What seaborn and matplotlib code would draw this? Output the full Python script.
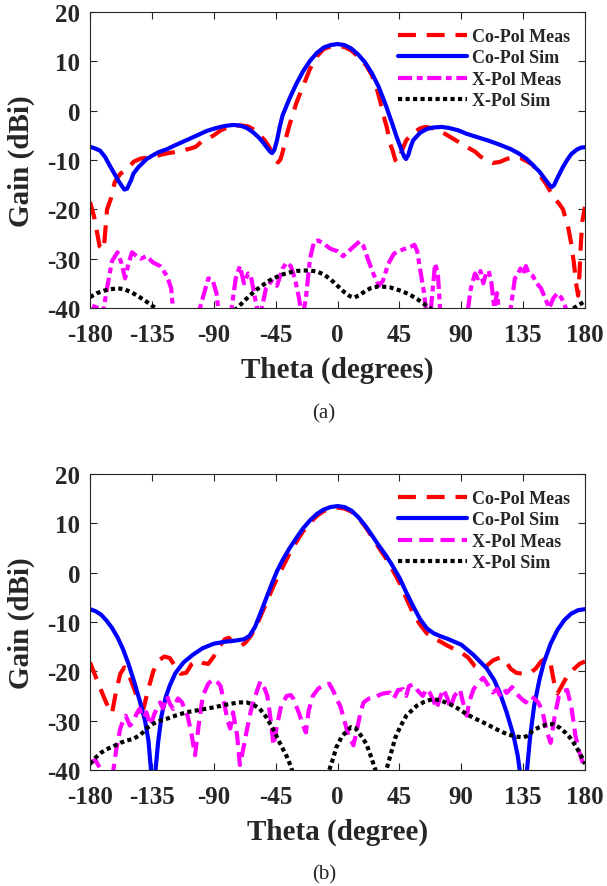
import matplotlib
matplotlib.use("Agg")
import matplotlib.pyplot as plt
import seaborn as sns
import pandas as pd

# ---------------- data (a) ----------------
theta_a_cosim = [-180, -176, -172.7, -169, -165.5, -162, -159.4, -157, -155, -153, -150, -148.5, -145, -141, -138.8, -134, -130, -124, -118, -110, -102, -95, -88, -82, -76, -71, -66, -61.3, -57, -54, -51, -49, -47.6, -46, -44, -42, -40, -35, -30, -25, -20, -15, -10, -5, 0, 5, 10, 15, 20, 25, 30, 35, 40, 43, 45, 47, 48.5, 49.8, 51.5, 53, 55, 60, 65, 70, 75.7, 81, 88, 94, 102, 110, 118, 126, 132, 137.6, 142, 147, 151, 154, 155.7, 157.5, 160, 164, 167, 170, 174, 177, 180]
gain_a_cosim = [-7.3, -7.7, -8.1, -9.4, -11.2, -12.9, -14.2, -15.2, -16.0, -15.8, -14.0, -12.8, -11.5, -10.4, -9.8, -9.0, -8.4, -7.8, -7.0, -6.0, -5.0, -4.1, -3.5, -3.1, -2.9, -3.0, -3.5, -4.4, -5.5, -6.5, -7.6, -8.3, -8.6, -8.0, -6.0, -3.3, -1.0, 2.4, 5.4, 8.0, 10.1, 11.7, 12.8, 13.3, 13.5, 13.3, 12.6, 11.4, 9.8, 7.6, 4.8, 1.2, -2.8, -5.3, -6.8, -8.3, -9.3, -9.8, -9.0, -7.5, -6.0, -4.5, -3.7, -3.4, -3.3, -3.5, -4.0, -4.7, -5.4, -6.1, -6.9, -7.8, -8.7, -9.8, -11.0, -12.4, -13.9, -15.0, -15.5, -15.1, -13.6, -11.4, -10.0, -8.8, -7.9, -7.5, -7.4]

theta_a_comeas = [-180, -177, -175, -173, -170, -167.6, -165, -162, -158, -153, -148, -143, -138, -133, -128, -123, -118, -114, -110, -106, -103, -99, -95, -90, -85, -80, -75, -70, -65, -61, -57, -53, -50, -47, -45, -43.3, -41.5, -40, -37, -35, -32, -30, -25, -20, -15, -10, -5, 0, 5, 10, 15, 21, 25, 28, 31, 34, 36, 38, 40, 42, 43.5, 45, 47, 50, 55, 60, 64, 70, 77, 83, 89, 95, 100, 104, 109, 113, 118, 123, 128, 133, 138, 142, 147, 152, 157, 161, 164, 166, 168, 170, 172, 173.5, 175, 176, 177, 178, 180]
gain_a_comeas = [-18.5, -21.5, -24.5, -27.5, -28.2, -20.0, -18.0, -14.5, -12.8, -11.8, -10.3, -9.7, -9.5, -9.3, -8.9, -8.6, -8.4, -8.2, -7.9, -7.6, -7.3, -6.3, -5.8, -5.0, -4.0, -3.4, -3.1, -3.0, -3.2, -3.8, -4.8, -6.0, -7.2, -8.8, -9.8, -10.5, -9.9, -8.5, -5.0, -3.0, -0.3, 1.5, 5.0, 8.5, 11.0, 12.5, 13.0, 13.1, 12.9, 12.2, 11.0, 9.1, 7.2, 5.0, 2.0, -1.5, -3.5, -6.5, -8.0, -10.0, -10.5, -9.5, -8.0, -6.0, -4.5, -3.6, -3.3, -3.6, -4.5, -5.5, -6.5, -7.5, -8.3, -9.3, -10.1, -10.6, -10.4, -9.8, -9.4, -9.6, -10.3, -11.0, -13.0, -15.0, -17.5, -18.8, -20.0, -22.0, -24.0, -27.0, -31.0, -35.0, -37.5, -33.0, -27.0, -22.5, -19.5]

theta_a_xmeas = [-180, -176, -173, -170, -167, -164, -160, -157, -154.5, -152, -149.5, -146, -143, -139, -134, -129, -124, -121, -119, -110, -104, -100, -97, -94, -91, -88, -86, -80, -77, -74, -71, -68, -65, -63, -60, -57, -55, -52, -48, -44, -40, -37, -34, -31, -28, -25.5, -23, -20, -17, -14, -10, -5, 0, 4, 8, 12, 16, 19, 22, 26, 30, 33, 37, 41, 45, 49, 53, 56, 58, 60, 63, 65, 68, 71, 73, 75, 80, 84, 87, 90, 94, 97, 100, 102, 104, 106, 108, 110, 112, 114, 116, 118, 122, 126, 129, 131, 133, 135, 137, 139, 142, 145, 148, 151, 154, 157, 160, 163, 166, 170, 175, 180]
gain_a_xmeas = [-42, -39, -42, -40, -35, -30.5, -28.7, -31, -34, -31, -28.7, -29.5, -30, -29.5, -30.8, -31.5, -33.5, -36, -42, -44, -42, -40, -37, -34, -34.2, -37, -42, -44, -40, -34, -31.5, -35, -33, -33.5, -38, -42, -40, -36, -34.5, -35.5, -32, -30.8, -31.5, -34, -38, -42, -38, -30, -26.5, -26.3, -27, -28, -28.5, -29.5, -28.5, -27.5, -26.5, -27.5, -30, -33, -35.5, -34.5, -31, -29, -28.4, -28, -27.6, -27.2, -28.5, -32, -37, -42, -40, -31, -33, -42, -44, -40, -42, -44, -42, -36, -33, -34, -32.5, -35, -33, -32.5, -35, -40, -37, -42, -44, -40, -34, -33.3, -32, -33, -31.5, -33, -33.5, -35, -36, -38, -40, -38, -37, -38, -40, -44, -44, -42]

theta_a_xsim = [-180, -175, -170, -165, -160, -155, -150, -145, -140, -135, -130, -120, -110, -100, -90, -80, -73, -65, -60, -55, -50, -45, -40, -35, -30, -25, -20, -15, -10, -5, 0, 5, 9, 12, 16, 20, 24, 30, 38, 46, 52, 58, 63, 68, 75, 90, 110, 130, 150, 165, 170, 175, 180]
gain_a_xsim = [-37.8, -37.0, -36.5, -36.2, -36.0, -36.2, -36.8, -37.6, -38.5, -39.5, -40.5, -42, -43, -43, -42.5, -41.5, -40, -37.8, -36.5, -35.5, -34.5, -33.8, -33.2, -32.8, -32.5, -32.4, -32.4, -32.6, -33.2, -34.2, -35.5, -36.8, -37.6, -37.9, -37.4, -36.6, -36.0, -35.6, -35.8, -36.5, -37.2, -38.2, -39.2, -40.2, -41.5, -43, -43.5, -43, -42, -41, -40.3, -39.5, -38.6]

# ---------------- data (b) ----------------
theta_b_cosim = [-180, -176, -172, -168, -164, -160, -156, -152, -148, -144, -140, -137.5, -135.5, -134, -132.5, -130.5, -128, -125, -122, -118, -112, -105, -98, -90, -82, -75, -68, -64, -60, -56, -52, -48, -44, -40, -35, -30, -25, -20, -15, -10, -5, 0, 5, 10, 15, 20, 25, 30, 35, 40, 45, 50, 55, 60, 65, 70, 75, 80, 90, 99, 108.5, 114, 118, 123, 128, 131, 133.5, 135.5, 137.5, 140, 143, 147, 150, 155, 160, 165, 170, 175, 180]
gain_b_cosim = [-7.4, -7.8, -8.5, -9.7, -11.2, -13.1, -15.5, -18.5, -22.0, -25.8, -30.0, -34.0, -40.5, -46, -40.5, -34.5, -29.0, -25.3, -22.9, -20.4, -18.2, -16.6, -15.3, -14.4, -14.0, -13.8, -13.5, -12.8, -11.0, -8.2, -5.3, -2.4, 0.3, 2.5, 4.9, 7.0, 9.0, 10.6, 11.9, 12.8, 13.3, 13.5, 13.3, 12.6, 11.3, 9.6, 7.6, 5.5, 3.6, 1.4, -1.0, -4.0, -6.8, -9.4, -11.3, -12.3, -12.9, -13.4, -14.6, -16.7, -19.4, -21.8, -24.3, -28.3, -33.0, -37.0, -42.0, -46, -41.0, -33.5, -27.0, -21.5, -18.3, -14.4, -11.6, -9.6, -8.3, -7.6, -7.4]

theta_b_comeas = [-180, -176, -172, -168, -164, -161, -158, -155, -152, -148, -144, -141, -138, -134, -130, -126, -122, -118, -114, -110, -106, -102, -98, -94, -90, -86, -82, -79, -75, -71, -67, -63, -59, -55, -51, -47, -43, -39, -35, -30, -25, -20, -15, -10, -5, 0, 5, 10, 15, 20, 25, 30, 35, 40, 45, 50, 55, 60, 65, 70, 75, 80, 85, 90, 95, 100, 104, 108, 113, 118, 122, 126, 130, 135, 140, 144, 148, 152, 155, 158, 160, 163, 167, 172, 176, 180]
gain_b_comeas = [-18.2, -21, -23.8, -26.5, -28.5, -24, -20.5, -19.2, -20.5, -23.5, -26.5, -27.5, -24, -20, -17.8, -17, -17.3, -19, -20.5, -20.3, -18.5, -17.8, -18.3, -18.5, -17, -15, -13.5, -13.2, -14.5, -15, -14.2, -12.8, -10.8, -8.2, -5.6, -3.0, -0.6, 1.6, 3.8, 6.2, 8.4, 10.1, 11.5, 12.5, 13.0, 13.2, 13.0, 12.4, 11.2, 9.4, 7.3, 5.1, 3.0, 0.6, -2.0, -5.2, -8.2, -10.5, -12.3, -13.3, -14.0, -14.8, -15.5, -16.2, -17.2, -19.0, -19.6, -19.0, -17.8, -17.2, -17.8, -19.5, -20.3, -20.5, -20.3, -19.5, -18.0, -17.3, -18.5, -23.0, -24.5, -23.0, -21.0, -19.5, -18.5, -18.0]

theta_b_xmeas = [-180, -176, -172, -168, -164, -161, -158, -156, -154, -151, -148.5, -146, -144, -141, -139, -136, -133, -129, -127, -124, -122, -119.6, -116, -113, -111, -109, -106, -103.6, -101, -98, -94, -90.5, -87, -85, -82, -80, -78, -76, -73, -71, -68, -66, -63, -61, -58, -56, -53, -51, -49, -46.5, -44, -41, -37, -34, -32, -28, -25, -23, -21, -18, -14, -10, -6, -3, 0, 2, 5, 8, 11.6, 14, 17, 19, 23, 28.6, 33, 38, 41, 44, 47.7, 50, 52, 55, 58, 62, 65, 67, 70, 72, 75, 77, 80, 82, 85, 89, 91, 94, 96, 99, 102, 106, 110, 113, 116, 118, 121, 123, 127, 130, 134, 137, 140, 143, 146, 149, 152, 155, 158, 161, 164, 167, 170, 173, 176, 180]
gain_b_xmeas = [-38.5, -38, -40, -43, -42, -36, -31.6, -30, -29, -31, -30.3, -28.5, -27.6, -29.5, -28.3, -31, -28.5, -26.3, -27.5, -25, -26.5, -27.6, -25.5, -26.3, -28, -29, -33, -37, -31, -25, -22.5, -21.6, -22.3, -23, -27, -30, -31.6, -28.3, -33, -39, -35, -32, -28, -26, -23.5, -22, -23.5, -25, -29, -35, -31, -27, -25, -24.8, -25.6, -28.5, -31, -32.4, -28, -25, -23.5, -22.8, -22.5, -24, -26, -27, -30, -33, -35, -32, -28, -26.3, -25.5, -25, -24.5, -24.3, -25.5, -23.8, -23.6, -25, -23, -22.6, -23.8, -25, -23.5, -24.3, -26, -27.6, -25, -23.6, -25.5, -27.6, -25, -23.6, -26, -29, -26, -23.6, -22.5, -21.3, -23, -24.3, -23.6, -24.8, -23.5, -24.4, -23.2, -24.5, -25.6, -26.3, -25, -25.5, -26.3, -28, -32, -34.5, -29, -25, -24, -23.8, -27, -33, -36.5, -40]

theta_b_xsim = [-180, -176, -172, -168, -163, -158, -153, -148.5, -143, -139, -134, -129, -124, -117, -110, -100, -90, -80, -72, -66, -61, -56.5, -52, -47, -42, -37, -34, -31, -20, -9, -6, -3, -1, 3, 7, 10, 13, 17, 21, 24, 27, 30, 33, 36, 39, 42, 45.5, 50, 57.5, 63, 69.5, 75, 82, 88, 94, 101, 108.5, 116, 123, 129, 135, 139, 142, 147, 152, 157, 162, 166, 169, 173, 176, 178.9, 180]
gain_b_xsim = [-38.8, -37.5, -36.5, -35.8, -35.2, -34.5, -34.0, -33.7, -32.8, -31.6, -30.6, -30.0, -29.6, -28.9, -28.3, -27.8, -27.3, -26.7, -26.3, -26.3, -26.8, -27.6, -29.2, -31.6, -34.5, -37.2, -39.2, -42, -48, -43, -40, -37.5, -35.5, -33.3, -32.0, -31.3, -31.5, -33.0, -34.7, -37.0, -39.5, -42, -42, -39.5, -36.5, -33.5, -31.3, -29.0, -27.0, -26.2, -25.6, -25.9, -26.7, -27.6, -28.7, -29.7, -30.7, -31.8, -32.7, -33.2, -33.4, -33.0, -32.0, -31.3, -30.8, -30.7, -31.5, -32.5, -33.4, -35.0, -36.5, -38.0, -38.8]

xticks = [-180, -135, -90, -45, 0, 45, 90, 135, 180]
yticks = [-40, -30, -20, -10, 0, 10, 20]
labels = ["Co-Pol Meas", "Co-Pol Sim", "X-Pol Meas", "X-Pol Sim"]
xlabels = ["Theta (degrees)", "Theta (degree)"]
captions = ["(a)", "(b)"]

# ---------------- styling ----------------
sns.set_theme(style="white")
plt.rcParams["font.family"] = ["Liberation Serif", "DejaVu Serif"]
plt.rcParams["font.weight"] = "bold"
plt.rcParams["axes.labelweight"] = "bold"

W, H = 607, 887
fig = plt.figure(figsize=(W / 100, H / 100), dpi=100)
fig.patch.set_facecolor("white")

def axrect(l, t, r, b):
    return [l / W, 1 - b / H, (r - l) / W, (b - t) / H]

ax_a = fig.add_axes(axrect(90, 13, 585, 309))
ax_b = fig.add_axes(axrect(90, 475, 585, 771))

lw = 3.0
red_ls = (0, (4.3, 2.6))
mag_ls_a = (0, (3.4, 1.1, 1.4, 1.1))
mag_ls_b = (0, (3.4, 1.7))
dot_ls = (0, (1.0, 0.8))

sets = [
    (ax_a, [(theta_a_comeas, gain_a_comeas, "#ff0000", red_ls),
            (theta_a_cosim, gain_a_cosim, "#0000ff", "-"),
            (theta_a_xmeas, gain_a_xmeas, "#ff00ff", mag_ls_a),
            (theta_a_xsim, gain_a_xsim, "#000000", dot_ls)]),
    (ax_b, [(theta_b_comeas, gain_b_comeas, "#ff0000", red_ls),
            (theta_b_cosim, gain_b_cosim, "#0000ff", "-"),
            (theta_b_xmeas, gain_b_xmeas, "#ff00ff", mag_ls_b),
            (theta_b_xsim, gain_b_xsim, "#000000", dot_ls)]),
]

for i, (ax, series) in enumerate(sets):
    for (th, g, col, ls), lab in zip(series, labels):
        df = pd.DataFrame({"theta": th, "gain": g})
        sns.lineplot(data=df, x="theta", y="gain", ax=ax, color=col,
                     linestyle=ls, linewidth=lw, label=lab, estimator=None,
                     sort=True, legend=False)
    ax.set_xlim(-180, 180)
    ax.set_ylim(-40, 20)
    ax.set_xticks(xticks)
    ax.set_yticks(yticks)
    ax.set_xticklabels([str(t) for t in xticks])
    ax.set_yticklabels([str(t) for t in yticks])
    ax.tick_params(axis="both", which="both", direction="in", length=5,
                   width=0.8, color="#262626", labelsize=18, labelcolor="#262626",
                   top=True, right=True, bottom=True, left=True)
    ax.tick_params(axis="x", pad=11)
    ax.tick_params(axis="y", pad=7)
    for lab_ in ax.get_xticklabels() + ax.get_yticklabels():
        lab_.set_fontweight("bold")
    for sp in ax.spines.values():
        sp.set_color("#262626")
        sp.set_linewidth(0.8)
        sp.set_visible(True)
    ax.set_xlabel(xlabels[i], fontsize=21, fontweight="bold", color="#262626", labelpad=7)
    ax.set_ylabel("Gain (dBi)", fontsize=21, fontweight="bold", color="#262626")
    handles = ax.get_lines()[:4]
    leg = ax.legend(handles, labels, loc="upper right", frameon=False,
                    prop={"family": ["Liberation Serif"], "weight": "bold", "size": 13},
                    handlelength=3.8, handletextpad=0.3, labelspacing=0.25,
                    borderaxespad=0.4, bbox_to_anchor=(1.0, 0.995))
    for t in leg.get_texts():
        t.set_color("#262626")
    ax.yaxis.set_label_coords(-0.112, 0.5)

fig.text(324 / W, 1 - 414 / H, captions[0], ha="center", va="center",
         fontsize=15, fontweight="normal", color="#262626")
fig.text(324 / W, 1 - 875 / H, captions[1], ha="center", va="center",
         fontsize=15, fontweight="normal", color="#262626")

fig.savefig("out.png", dpi=100, facecolor="white")
